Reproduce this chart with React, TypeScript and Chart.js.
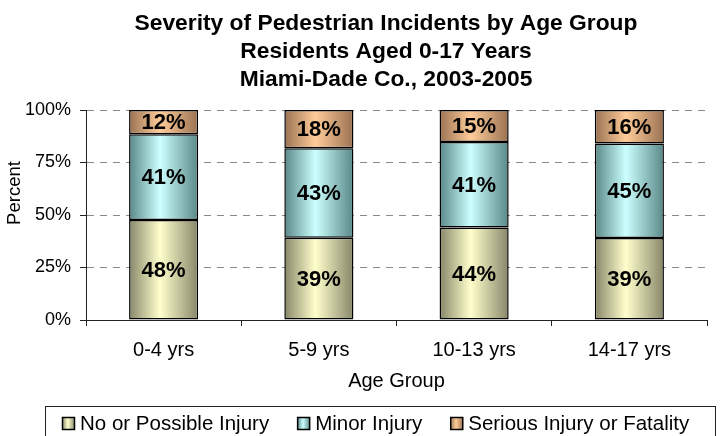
import React, { useEffect, useRef } from "react";
import { Chart, registerables } from "chart.js";
Chart.register(...registerables);

const categories = ["0-4 yrs", "5-9 yrs", "10-13 yrs", "14-17 yrs"];
const noInjury = [47.6, 39.2, 44.0, 39.0];
const minorInjury = [40.8, 42.6, 40.8, 45.0];
const seriousInjury = [11.6, 18.2, 15.2, 16.0];
const seriesNames = ["No or Possible Injury", "Minor Injury", "Serious Injury or Fatality"];
const yTickValues = [0, 25, 50, 75, 100];
const titleLines = [
  "Severity of Pedestrian Incidents by Age Group",
  "Residents Aged 0-17 Years",
  "Miami-Dade Co., 2003-2005",
];
const xAxisTitle = "Age Group";
const yAxisTitle = "Percent";

const FONT = "'Liberation Sans', Arial, Helvetica, sans-serif";
const BAR_PCT = 0.445;

const palettes = [
  { dark: "#87876a", light: "#ffffcc" },
  { dark: "#5a8888", light: "#ccffff" },
  { dark: "#9a7252", light: "#ffcc99" },
];

function makeGrad(ctx: CanvasRenderingContext2D, x0: number, x1: number, p: { dark: string; light: string }) {
  const g = ctx.createLinearGradient(x0, 0, x1, 0);
  g.addColorStop(0, p.dark);
  g.addColorStop(0.45, p.light);
  g.addColorStop(1, p.dark);
  return g;
}

const decorPlugin = {
  id: "decor",
  afterDatasetsDraw(chart: any) {
    const ctx = chart.ctx as CanvasRenderingContext2D;
    ctx.save();
    ctx.font = `bold 22px ${FONT}`;
    ctx.fillStyle = "#000";
    ctx.textAlign = "center";
    ctx.textBaseline = "middle";
    chart.data.datasets.forEach((ds: any, di: number) => {
      const meta = chart.getDatasetMeta(di);
      meta.data.forEach((el: any, i: number) => {
        const v = ds.data[i];
        const y = (el.y + el.base) / 2 + 1;
        ctx.fillText(Math.round(v) + "%", el.x, y);
      });
    });
    ctx.restore();
  },
  afterDraw(chart: any) {
    const ctx = chart.ctx as CanvasRenderingContext2D;
    const area = chart.chartArea;
    ctx.save();
    ctx.fillStyle = "#000";
    // title
    ctx.font = `bold 22.8px ${FONT}`;
    ctx.textAlign = "center";
    ctx.textBaseline = "alphabetic";
    titleLines.forEach((t, i) => ctx.fillText(t, 386, 30 + i * 28));
    // x axis title
    ctx.font = `20px ${FONT}`;
    ctx.fillText(xAxisTitle, (area.left + area.right) / 2, 387);
    // y axis title
    ctx.save();
    ctx.translate(15, 193);
    ctx.rotate(-Math.PI / 2);
    ctx.font = `18.5px ${FONT}`;
    ctx.textBaseline = "middle";
    ctx.fillText(yAxisTitle, 0, 0);
    ctx.restore();
    // legend
    ctx.strokeStyle = "#222";
    ctx.lineWidth = 1;
    ctx.strokeRect(45.5, 406.5, 670, 40);
    ctx.font = `20.5px ${FONT}`;
    ctx.textAlign = "left";
    ctx.textBaseline = "alphabetic";
    let x = 62;
    seriesNames.forEach((name, i) => {
      ctx.fillStyle = makeGrad(ctx, x, x + 13, palettes[i]);
      ctx.fillRect(x, 417, 13, 13);
      ctx.strokeStyle = "#000";
      ctx.lineWidth = 1.5;
      ctx.strokeRect(x + 0.5, 417.5, 12, 12);
      ctx.fillStyle = "#000";
      ctx.fillText(name, x + 18, 430);
      x = x + 18 + ctx.measureText(name).width + 28;
    });
    ctx.restore();
  },
};

export default function App() {
  const ref = useRef<HTMLCanvasElement>(null);
  useEffect(() => {
    if (!ref.current) return;
    const series = [noInjury, minorInjury, seriousInjury];
    const chart = new Chart(ref.current, {
      type: "bar",
      data: {
        labels: categories,
        datasets: series.map((d, i) => ({
          label: seriesNames[i],
          data: d,
          backgroundColor: (c: any) => {
            const ch = c.chart;
            const xs = ch.scales && ch.scales.x;
            if (!xs || !ch.chartArea || c.dataIndex === undefined) return palettes[i].light;
            const cw = (xs.right - xs.left) / categories.length;
            const cx = xs.getPixelForValue(c.dataIndex);
            const w = cw * BAR_PCT;
            return makeGrad(ch.ctx, cx - w / 2, cx + w / 2, palettes[i]);
          },
          borderColor: "#000",
          borderWidth: 1.5,
          borderSkipped: false,
          barPercentage: BAR_PCT,
          categoryPercentage: 1,
        })),
      },
      options: {
        animation: false,
        responsive: true,
        maintainAspectRatio: false,
        layout: { padding: { top: 110, right: 16, left: 0, bottom: 0 } },
        plugins: {
          legend: { display: false },
          title: { display: false },
          tooltip: { enabled: false },
        },
        scales: {
          x: {
            stacked: true,
            grid: {
              offset: true,
              drawOnChartArea: false,
              drawTicks: true,
              tickLength: 6,
              tickColor: "#222",
              color: "#222",
            },
            border: { display: true, color: "#222", width: 1 },
            ticks: {
              color: "#000",
              font: { family: FONT, size: 20 },
              padding: 12,
            },
            afterFit: (s: any) => {
              s.height = 116;
            },
          },
          y: {
            stacked: true,
            min: 0,
            max: 100,
            afterBuildTicks: (s: any) => {
              s.ticks = yTickValues.map((v) => ({ value: v }));
            },
            grid: {
              color: "#8a8a8a",
              lineWidth: 1,
              tickLength: 6,
              tickColor: "#222",
              tickBorderDash: [],
            },
            border: { display: true, color: "#222", width: 1, dash: [7, 6] },
            ticks: {
              color: "#000",
              font: { family: FONT, size: 18 },
              padding: 9,
              callback: (v: any) => v + "%",
            },
            afterFit: (s: any) => {
              s.width = 86;
            },
          },
        },
      },
      plugins: [decorPlugin],
    });
    return () => chart.destroy();
  }, []);
  return (
    <div style={{ position: "fixed", left: 0, top: 0, width: 723, height: 436, background: "#fff" }}>
      <canvas ref={ref} />
    </div>
  );
}
